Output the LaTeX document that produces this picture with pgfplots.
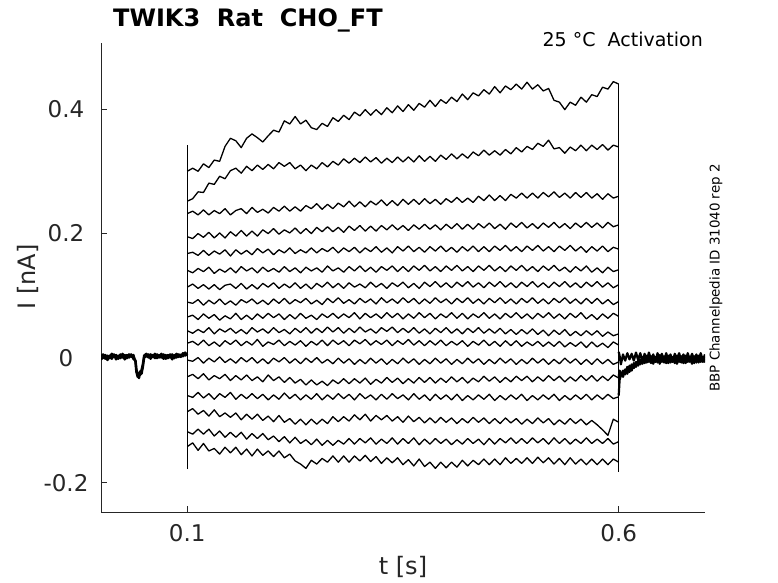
\documentclass[border=0pt]{standalone}
\usepackage{fontspec}
\setmainfont{DejaVu Sans}
\usepackage{pgfplots}
\usepackage{pgfplotstable}
\pgfplotsset{compat=1.18}
\definecolor{axgray}{RGB}{38,38,38}

\pgfplotstableread{
t s1 s2 s3 s4 s5 s6 s7 s8 s9 s10 s11 s12 s13 s14 s15 s16 s17
0.1 0.300 0.252 0.232 0.195 0.168 0.141 0.114 0.090 0.066 0.044 0.024 -0.003 -0.030 -0.060 -0.086 -0.118 -0.142
0.10625 0.305 0.256 0.236 0.192 0.170 0.137 0.119 0.088 0.069 0.040 0.027 -0.005 -0.026 -0.063 -0.081 -0.122 -0.136
0.1125 0.300 0.267 0.230 0.200 0.165 0.144 0.112 0.094 0.062 0.046 0.021 0.001 -0.033 -0.055 -0.090 -0.114 -0.148
0.11875 0.312 0.266 0.238 0.194 0.173 0.139 0.118 0.085 0.071 0.041 0.029 -0.008 -0.025 -0.064 -0.084 -0.122 -0.137
0.125 0.306 0.281 0.230 0.202 0.165 0.146 0.111 0.093 0.064 0.049 0.020 0.000 -0.035 -0.057 -0.093 -0.114 -0.149
0.13125 0.318 0.279 0.237 0.193 0.172 0.136 0.118 0.087 0.070 0.039 0.026 -0.006 -0.028 -0.066 -0.083 -0.125 -0.145
0.1375 0.316 0.292 0.232 0.201 0.167 0.143 0.110 0.095 0.061 0.047 0.019 0.002 -0.033 -0.057 -0.094 -0.117 -0.154
0.14375 0.340 0.288 0.240 0.193 0.174 0.138 0.117 0.086 0.068 0.042 0.028 -0.007 -0.026 -0.063 -0.088 -0.127 -0.143
0.15 0.353 0.301 0.230 0.203 0.164 0.145 0.119 0.092 0.063 0.048 0.022 -0.001 -0.036 -0.055 -0.095 -0.119 -0.152
0.15625 0.349 0.305 0.237 0.196 0.174 0.137 0.112 0.085 0.072 0.040 0.029 -0.008 -0.028 -0.066 -0.088 -0.127 -0.143
0.1625 0.338 0.297 0.240 0.205 0.167 0.147 0.120 0.094 0.062 0.046 0.020 0.001 -0.035 -0.058 -0.099 -0.119 -0.155
0.16875 0.353 0.308 0.232 0.196 0.173 0.140 0.111 0.089 0.069 0.039 0.027 -0.006 -0.027 -0.065 -0.090 -0.130 -0.146
0.175 0.360 0.301 0.242 0.204 0.166 0.145 0.118 0.095 0.062 0.049 0.021 0.001 -0.036 -0.057 -0.098 -0.121 -0.157
0.18125 0.354 0.310 0.234 0.196 0.176 0.137 0.111 0.087 0.071 0.042 0.030 -0.008 -0.030 -0.065 -0.090 -0.129 -0.146
0.1875 0.347 0.303 0.239 0.206 0.169 0.146 0.120 0.093 0.064 0.047 0.019 -0.001 -0.038 -0.058 -0.100 -0.121 -0.156
0.19375 0.357 0.311 0.233 0.200 0.175 0.139 0.114 0.086 0.072 0.040 0.026 -0.009 -0.027 -0.067 -0.093 -0.131 -0.149
0.2 0.366 0.304 0.242 0.208 0.166 0.144 0.121 0.095 0.065 0.049 0.022 0.000 -0.036 -0.059 -0.102 -0.125 -0.158
0.20625 0.363 0.314 0.236 0.199 0.174 0.138 0.112 0.088 0.071 0.041 0.029 -0.006 -0.030 -0.066 -0.092 -0.134 -0.149
0.2125 0.381 0.308 0.244 0.206 0.169 0.147 0.119 0.096 0.062 0.046 0.020 0.001 -0.039 -0.056 -0.103 -0.126 -0.160
0.21875 0.376 0.314 0.236 0.201 0.177 0.139 0.113 0.087 0.070 0.039 0.027 -0.008 -0.031 -0.065 -0.097 -0.136 -0.154
0.225 0.388 0.304 0.243 0.209 0.168 0.145 0.121 0.094 0.063 0.048 0.021 -0.001 -0.040 -0.058 -0.106 -0.127 -0.165
0.23125 0.376 0.310 0.236 0.200 0.174 0.137 0.112 0.089 0.072 0.041 0.028 -0.009 -0.034 -0.067 -0.098 -0.137 -0.170
0.2375 0.382 0.301 0.245 0.208 0.169 0.146 0.119 0.096 0.064 0.049 0.019 0.000 -0.043 -0.059 -0.107 -0.131 -0.177
0.24375 0.370 0.310 0.240 0.200 0.177 0.140 0.111 0.087 0.069 0.040 0.027 -0.007 -0.035 -0.066 -0.098 -0.139 -0.164
0.25 0.367 0.304 0.248 0.210 0.169 0.145 0.120 0.093 0.062 0.048 0.021 0.001 -0.043 -0.057 -0.106 -0.130 -0.170
0.25625 0.377 0.314 0.239 0.203 0.176 0.138 0.114 0.086 0.071 0.041 0.029 -0.008 -0.037 -0.067 -0.098 -0.140 -0.161
0.2625 0.372 0.307 0.247 0.211 0.171 0.148 0.122 0.096 0.065 0.050 0.020 -0.002 -0.044 -0.059 -0.105 -0.132 -0.167
0.26875 0.386 0.316 0.240 0.203 0.178 0.140 0.113 0.089 0.072 0.042 0.029 -0.009 -0.035 -0.066 -0.094 -0.140 -0.157
0.275 0.380 0.310 0.249 0.210 0.169 0.145 0.120 0.097 0.064 0.049 0.022 0.000 -0.041 -0.057 -0.102 -0.132 -0.167
0.28125 0.390 0.320 0.243 0.202 0.177 0.138 0.112 0.088 0.071 0.040 0.028 -0.008 -0.033 -0.065 -0.094 -0.138 -0.157
0.2875 0.383 0.313 0.252 0.212 0.171 0.147 0.121 0.094 0.065 0.048 0.020 -0.001 -0.041 -0.058 -0.101 -0.129 -0.167
0.29375 0.395 0.321 0.243 0.205 0.178 0.140 0.114 0.087 0.073 0.041 0.029 -0.010 -0.033 -0.067 -0.091 -0.138 -0.157
0.3 0.389 0.314 0.251 0.213 0.169 0.148 0.119 0.096 0.063 0.050 0.023 -0.002 -0.040 -0.057 -0.099 -0.129 -0.165
0.30625 0.399 0.323 0.243 0.204 0.177 0.139 0.113 0.089 0.072 0.042 0.030 -0.009 -0.032 -0.065 -0.090 -0.136 -0.156
0.3125 0.390 0.315 0.252 0.212 0.171 0.146 0.122 0.095 0.065 0.047 0.021 0.000 -0.042 -0.059 -0.101 -0.128 -0.166
0.31875 0.399 0.322 0.246 0.204 0.179 0.138 0.114 0.087 0.071 0.040 0.028 -0.008 -0.034 -0.067 -0.092 -0.138 -0.158
0.325 0.391 0.313 0.254 0.213 0.170 0.147 0.120 0.097 0.064 0.049 0.022 -0.001 -0.040 -0.058 -0.099 -0.130 -0.169
0.33125 0.402 0.321 0.245 0.206 0.177 0.141 0.112 0.089 0.073 0.043 0.029 -0.010 -0.031 -0.066 -0.092 -0.137 -0.160
0.3375 0.394 0.314 0.253 0.214 0.169 0.148 0.121 0.095 0.065 0.050 0.020 -0.002 -0.039 -0.057 -0.101 -0.128 -0.168
0.34375 0.405 0.323 0.245 0.206 0.179 0.139 0.115 0.088 0.072 0.041 0.028 -0.009 -0.032 -0.065 -0.094 -0.138 -0.160
0.35 0.396 0.315 0.255 0.213 0.172 0.147 0.122 0.097 0.063 0.048 0.022 0.000 -0.041 -0.059 -0.103 -0.129 -0.171
0.35625 0.407 0.323 0.247 0.205 0.180 0.139 0.113 0.089 0.071 0.041 0.030 -0.008 -0.033 -0.067 -0.093 -0.137 -0.163
0.3625 0.398 0.315 0.255 0.214 0.171 0.148 0.120 0.096 0.064 0.049 0.021 -0.001 -0.040 -0.057 -0.102 -0.128 -0.173
0.36875 0.409 0.325 0.247 0.207 0.178 0.141 0.112 0.087 0.073 0.040 0.028 -0.010 -0.031 -0.066 -0.095 -0.139 -0.162
0.375 0.403 0.316 0.256 0.215 0.170 0.149 0.122 0.095 0.065 0.047 0.020 -0.002 -0.039 -0.059 -0.104 -0.130 -0.174
0.38125 0.414 0.324 0.248 0.207 0.179 0.140 0.115 0.088 0.072 0.039 0.028 -0.009 -0.031 -0.068 -0.096 -0.138 -0.167
0.3875 0.404 0.316 0.255 0.214 0.172 0.147 0.123 0.097 0.063 0.048 0.021 0.000 -0.040 -0.058 -0.104 -0.129 -0.177
0.39375 0.415 0.326 0.247 0.206 0.180 0.139 0.114 0.089 0.071 0.041 0.029 -0.008 -0.032 -0.066 -0.095 -0.137 -0.167
0.4 0.409 0.319 0.256 0.215 0.171 0.148 0.121 0.095 0.065 0.049 0.020 -0.001 -0.039 -0.059 -0.103 -0.130 -0.176
0.40625 0.419 0.328 0.250 0.208 0.178 0.141 0.113 0.087 0.073 0.040 0.027 -0.010 -0.030 -0.067 -0.096 -0.139 -0.167
0.4125 0.412 0.320 0.258 0.216 0.170 0.149 0.122 0.096 0.064 0.047 0.021 -0.002 -0.038 -0.058 -0.105 -0.131 -0.175
0.41875 0.424 0.328 0.250 0.207 0.179 0.140 0.115 0.089 0.072 0.039 0.028 -0.009 -0.031 -0.068 -0.097 -0.138 -0.164
0.425 0.415 0.321 0.257 0.215 0.172 0.147 0.123 0.097 0.063 0.048 0.019 0.000 -0.040 -0.060 -0.104 -0.129 -0.173
0.43125 0.426 0.331 0.250 0.207 0.180 0.139 0.114 0.088 0.071 0.041 0.027 -0.008 -0.032 -0.067 -0.095 -0.137 -0.164
0.4375 0.421 0.325 0.260 0.216 0.171 0.148 0.121 0.095 0.065 0.049 0.021 -0.001 -0.038 -0.059 -0.103 -0.130 -0.171
0.44375 0.431 0.334 0.253 0.209 0.179 0.141 0.113 0.087 0.073 0.040 0.029 -0.010 -0.029 -0.066 -0.096 -0.139 -0.162
0.45 0.424 0.326 0.262 0.217 0.171 0.149 0.122 0.096 0.064 0.047 0.020 -0.002 -0.037 -0.058 -0.105 -0.129 -0.171
0.45625 0.436 0.333 0.253 0.208 0.180 0.140 0.115 0.089 0.071 0.040 0.027 -0.009 -0.030 -0.068 -0.097 -0.138 -0.162
0.4625 0.426 0.326 0.261 0.215 0.173 0.147 0.123 0.097 0.063 0.048 0.019 0.000 -0.039 -0.060 -0.105 -0.129 -0.171
0.46875 0.437 0.335 0.253 0.207 0.181 0.139 0.114 0.088 0.072 0.039 0.028 -0.008 -0.031 -0.067 -0.096 -0.136 -0.160
0.475 0.431 0.328 0.263 0.217 0.172 0.148 0.121 0.095 0.065 0.046 0.020 -0.001 -0.038 -0.059 -0.104 -0.128 -0.169
0.48125 0.440 0.338 0.257 0.210 0.179 0.141 0.113 0.087 0.073 0.038 0.028 -0.010 -0.029 -0.066 -0.097 -0.137 -0.161
0.4875 0.432 0.331 0.265 0.218 0.171 0.149 0.122 0.096 0.064 0.046 0.019 -0.002 -0.036 -0.058 -0.106 -0.129 -0.169
0.49375 0.443 0.340 0.257 0.209 0.180 0.140 0.115 0.089 0.071 0.039 0.026 -0.009 -0.029 -0.068 -0.098 -0.137 -0.160
0.5 0.432 0.335 0.265 0.216 0.173 0.147 0.123 0.097 0.063 0.047 0.020 0.000 -0.038 -0.060 -0.105 -0.128 -0.169
0.50625 0.439 0.345 0.257 0.208 0.181 0.139 0.114 0.088 0.072 0.038 0.027 -0.008 -0.030 -0.067 -0.096 -0.136 -0.159
0.5125 0.429 0.340 0.266 0.217 0.172 0.148 0.121 0.095 0.065 0.045 0.019 -0.001 -0.037 -0.059 -0.104 -0.129 -0.168
0.51875 0.433 0.350 0.259 0.210 0.179 0.141 0.113 0.087 0.073 0.036 0.026 -0.010 -0.028 -0.066 -0.097 -0.138 -0.160
0.525 0.414 0.336 0.267 0.218 0.171 0.149 0.122 0.096 0.064 0.045 0.019 -0.002 -0.036 -0.058 -0.107 -0.128 -0.170
0.53125 0.411 0.338 0.258 0.209 0.180 0.140 0.115 0.089 0.071 0.038 0.027 -0.009 -0.029 -0.068 -0.099 -0.137 -0.161
0.5375 0.399 0.329 0.265 0.216 0.173 0.146 0.123 0.097 0.063 0.046 0.018 0.000 -0.038 -0.060 -0.106 -0.129 -0.171
0.54375 0.411 0.339 0.257 0.208 0.181 0.138 0.114 0.088 0.072 0.036 0.025 -0.008 -0.030 -0.067 -0.097 -0.138 -0.160
0.55 0.406 0.333 0.266 0.217 0.172 0.147 0.121 0.095 0.065 0.043 0.019 -0.001 -0.037 -0.059 -0.105 -0.130 -0.170
0.55625 0.419 0.342 0.258 0.210 0.179 0.140 0.113 0.087 0.073 0.036 0.026 -0.010 -0.028 -0.066 -0.098 -0.137 -0.162
0.5625 0.411 0.333 0.266 0.218 0.170 0.148 0.122 0.096 0.063 0.044 0.017 -0.002 -0.036 -0.058 -0.107 -0.128 -0.171
0.56875 0.423 0.342 0.257 0.210 0.179 0.138 0.115 0.088 0.070 0.037 0.026 -0.010 -0.028 -0.067 -0.100 -0.137 -0.162
0.575 0.420 0.335 0.264 0.217 0.172 0.145 0.123 0.096 0.062 0.044 0.018 -0.001 -0.037 -0.059 -0.107 -0.130 -0.171
0.58125 0.435 0.343 0.255 0.209 0.180 0.137 0.114 0.087 0.071 0.035 0.024 -0.009 -0.029 -0.066 -0.115 -0.137 -0.162
0.5875 0.432 0.334 0.264 0.218 0.171 0.146 0.121 0.094 0.064 0.042 0.017 -0.002 -0.036 -0.058 -0.124 -0.129 -0.171
0.59375 0.444 0.342 0.257 0.211 0.178 0.139 0.113 0.086 0.072 0.036 0.026 -0.010 -0.027 -0.065 -0.098 -0.138 -0.162
0.6 0.440 0.339 0.260 0.214 0.175 0.142 0.118 0.091 0.067 0.039 0.021 -0.006 -0.032 -0.062 -0.103 -0.134 -0.167
}\steps

\pgfplotstableread{
t h1 h2
0.0000 0.003 -0.002
0.0025 0.006 0.001
0.0050 -0.001 0.005
0.0075 0.004 -0.003
0.0100 0.000 0.004
0.0125 0.007 -0.001
0.0150 0.002 0.006
0.0175 0.005 -0.002
0.0200 -0.001 0.004
0.0225 0.006 0.000
0.0250 0.001 0.007
0.0275 0.005 -0.002
0.0300 0.000 0.005
0.0325 0.006 0.001
0.0350 0.002 0.006
0.0375 0.005 -0.001
0.0400 -0.006 -0.004
0.0410 -0.022 -0.018
0.0425 -0.030 -0.026
0.0440 -0.024 -0.032
0.0455 -0.027 -0.021
0.0470 -0.019 -0.025
0.0485 -0.010 -0.014
0.0500 0.004 0.001
0.0525 0.007 0.003
0.0550 0.001 0.006
0.0575 0.006 -0.001
0.0600 0.002 0.005
0.0625 0.007 0.000
0.0650 0.000 0.006
0.0675 0.005 0.001
0.0700 0.001 0.007
0.0725 0.006 -0.001
0.0750 -0.001 0.005
0.0775 0.005 0.000
0.0800 0.001 0.006
0.0825 0.006 -0.002
0.0850 0.000 0.005
0.0875 0.007 0.001
0.0900 0.002 0.006
0.0925 0.006 0.002
0.0950 0.003 0.008
0.0975 0.009 0.004
0.1000 0.005 0.007
}\pre

\pgfplotstableread{
t p1 p2 p3
0.6000 -0.060 0.010 -0.030
0.6010 -0.035 0.004 -0.020
0.6025 -0.028 -0.010 -0.024
0.6050 -0.020 0.006 -0.030
0.6075 -0.026 -0.004 -0.018
0.6100 -0.014 0.008 -0.025
0.6125 -0.022 -0.002 -0.012
0.6150 -0.010 0.007 -0.020
0.6175 -0.016 -0.004 -0.008
0.6200 -0.006 0.009 -0.014
0.6225 -0.012 -0.003 -0.004
0.6250 -0.002 0.008 -0.010
0.6275 -0.009 -0.005 0.002
0.6300 0.002 0.007 -0.008
0.6325 -0.007 -0.004 0.004
0.6350 0.003 0.009 -0.006
0.6375 -0.008 -0.003 0.003
0.6400 0.004 0.006 -0.009
0.6425 -0.006 -0.006 0.002
0.6450 0.003 0.008 -0.007
0.6475 -0.009 -0.002 0.005
0.6500 0.002 0.007 -0.006
0.6525 -0.007 -0.005 0.003
0.6550 0.004 0.008 -0.008
0.6575 -0.008 -0.003 0.004
0.6600 0.003 0.006 -0.007
0.6625 -0.006 -0.006 0.002
0.6650 0.004 0.007 -0.008
0.6675 -0.009 -0.002 0.004
0.6700 0.002 0.008 -0.006
0.6725 -0.007 -0.004 0.003
0.6750 0.003 0.006 -0.008
0.6775 -0.008 -0.005 0.004
0.6800 0.004 0.008 -0.006
0.6825 -0.006 -0.003 0.002
0.6850 0.002 0.007 -0.009
0.6875 -0.008 -0.004 0.003
0.6900 0.003 0.006 -0.007
0.6925 -0.007 -0.005 0.004
0.6950 0.004 0.008 -0.006
0.6975 -0.006 -0.003 0.002
0.7000 0.002 0.006 -0.007
}\post

\begin{document}
\begin{tikzpicture}
\useasboundingbox (0,0) rectangle (778bp,583bp);
\begin{axis}[
  at={(101bp,71bp)}, anchor=south west,
  scale only axis, width=604bp, height=469bp,
  xmin=0, xmax=0.7, ymin=-0.247, ymax=0.506,
  axis x line=bottom, axis y line=left,
  axis line style={-, draw=axgray, line width=0.6bp},
  xtick={0.1,0.6}, xticklabels={0.1,0.6},
  ytick={-0.2,0,0.2,0.4}, yticklabels={-0.2,0,0.2,0.4},
  tick align=inside, major tick length=6bp,
  tick style={draw=axgray, line width=0.6bp},
  tick label style={font=\fontsize{23bp}{27bp}\selectfont, text=axgray},
  xticklabel style={anchor=center, yshift=-21bp},
  yticklabel style={anchor=center, xshift=-35bp},
]
\addplot[black, line width=2.4bp, line join=round] table[x=t,y=h1]{\pre};
\addplot[black, line width=2.4bp, line join=round] table[x=t,y=h2]{\pre};
\pgfplotsinvokeforeach{1,...,17}{
  \addplot[black, line width=1.3bp, line join=round] table[x=t,y=s#1]{\steps};
}
\addplot[black, line width=2.2bp, line join=round] table[x=t,y=p1]{\post};
\addplot[black, line width=2.2bp, line join=round] table[x=t,y=p2]{\post};
\addplot[black, line width=2.2bp, line join=round] table[x=t,y=p3]{\post};
\addplot[black, line width=1.4bp] coordinates {(0.1,-0.178) (0.1,0.342)};
\addplot[black, line width=1.2bp] coordinates {(0.6,-0.182) (0.6,0.440)};
\end{axis}
\node[anchor=base west, inner sep=0, font=\fontsize{24bp}{28bp}\selectfont\bfseries] at (113bp,556bp) {TWIK3\ \ Rat\ \ CHO\_FT};
\node[anchor=base east, inner sep=0, font=\fontsize{19bp}{23bp}\selectfont] at (703bp,536bp) {25 °C\ \ Activation};
\node[rotate=90, inner sep=0, font=\fontsize{24bp}{28bp}\selectfont, text=axgray] at (28bp,306bp) {I [nA]};
\node[inner sep=0, font=\fontsize{24bp}{28bp}\selectfont, text=axgray] at (403bp,16bp) {t [s]};
\node[rotate=90, inner sep=0, font=\fontsize{13.4bp}{16bp}\selectfont] at (716bp,305bp) {BBP Channelpedia ID 31040 rep 2};
\end{tikzpicture}
\end{document}
